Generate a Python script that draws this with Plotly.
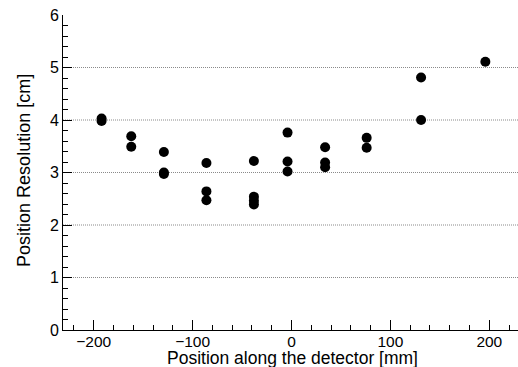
import plotly.graph_objects as go

# Data
positions_mm = [-192, -192, -162, -162, -129, -129, -129, -86, -86, -86,
                -38, -38, -38, -38, -4, -4, -4, 34, 34, 34, 76, 76, 131, 131, 196]
resolution_cm = [4.03, 3.98, 3.69, 3.49, 3.39, 3.00, 2.97, 3.18, 2.64, 2.47,
                 3.22, 2.54, 2.46, 2.39, 3.76, 3.21, 3.02, 3.48, 3.19, 3.10,
                 3.66, 3.47, 4.81, 4.00, 5.11]
grid_levels = [1, 2, 3, 4, 5]
x_ticks = [-200, -100, 0, 100, 200]
y_ticks = [0, 1, 2, 3, 4, 5, 6]

FONT = "Liberation Sans, Arial, Helvetica, sans-serif"

fig = go.Figure()
fig.add_trace(go.Scatter(
    x=positions_mm, y=resolution_cm, mode="markers",
    marker=dict(color="black", size=10, line=dict(width=0)),
    showlegend=False,
))

for g in grid_levels:
    fig.add_shape(type="line", xref="paper", x0=0, x1=1, yref="y", y0=g, y1=g,
                  line=dict(color="#8a8a8a", width=1, dash="1px,1px"), layer="below")

fig.update_layout(
    width=518, height=367,
    margin=dict(l=63, r=0, t=15, b=37),
    paper_bgcolor="white", plot_bgcolor="white",
    font=dict(family=FONT, size=16, color="black"),
    xaxis=dict(
        range=[-231, 229], tickvals=x_ticks, ticks="inside", ticklen=10, tickwidth=1,
        tickcolor="black", showline=True, linecolor="black", linewidth=1,
        showgrid=False, zeroline=False, tickfont=dict(size=15.5), ticklabelstandoff=-3,
        minor=dict(ticks="inside", dtick=20, tick0=0, ticklen=5, tickcolor="black", showgrid=False),
    ),
    yaxis=dict(
        range=[0, 6], tickvals=y_ticks, ticks="inside", ticklen=9, tickwidth=1,
        tickcolor="black", showline=True, linecolor="black", linewidth=1,
        showgrid=False, zeroline=False, tickfont=dict(size=16),
        minor=dict(ticks="inside", dtick=0.2, tick0=0, ticklen=5, tickcolor="black", showgrid=False),
    ),
    annotations=[
        dict(text="Position along the detector [mm]", xref="paper", yref="paper",
             x=0.505, y=0, yshift=-28, xanchor="center", yanchor="middle",
             showarrow=False, font=dict(size=17.5)),
        dict(text="Position Resolution [cm]", xref="paper", yref="paper",
             x=0, xshift=-39, y=0.505, xanchor="center", yanchor="middle",
             textangle=-90, showarrow=False, font=dict(size=18)),
    ],
)

fig.write_html("out.html")
